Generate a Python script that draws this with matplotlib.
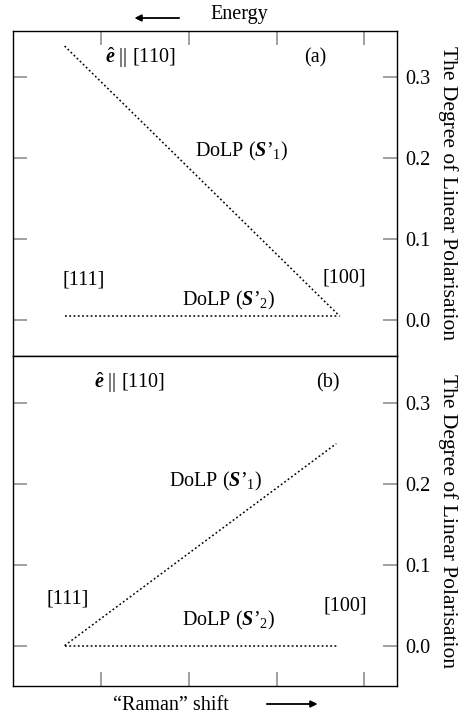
import matplotlib.pyplot as plt

plt.rcParams['font.family'] = ['Liberation Serif', 'DejaVu Serif']
plt.rcParams['mathtext.fontset'] = 'custom'
plt.rcParams['mathtext.rm'] = 'Liberation Serif'
plt.rcParams['mathtext.it'] = 'Liberation Serif:italic'
plt.rcParams['mathtext.bf'] = 'Liberation Serif:bold'
plt.rcParams['mathtext.bfit'] = 'Liberation Serif:bold:italic'

# panel (a): e || [110], S'1 falls from [111] to [100]
a_s1_x = [0.59, 3.72]
a_s1_y = [0.338, 0.005]
a_s2_x = [0.59, 3.70]
a_s2_y = [0.005, 0.005]

# panel (b)
b_s1_x = [0.59, 3.68]
b_s1_y = [0.001, 0.250]
b_s2_x = [0.59, 3.70]
b_s2_y = [0.001, 0.001]

yticks = [0.0, 0.1, 0.2, 0.3]
ytick_labels = ["0.0", "0.1", "0.2", "0.3"]
xticks = [1, 2, 3, 4]

FS = 14.5
ylabel = "The Degree of Linear Polarisation"
ehat = r"$\hat{\mathbfit{e}}$ || [110]"
s1 = r"DoLP ($\mathbfit{S}$’$_{1}$)"
s2 = r"DoLP ($\mathbfit{S}$’$_{2}$)"

fig = plt.figure(figsize=(4.6, 7.2), dpi=100)
ax_a = fig.add_axes([0.0276, 0.5055, 0.8354, 0.452])
ax_b = fig.add_axes([0.0276, 0.047, 0.8354, 0.4585])

dots = (0, (1.2, 1.6))
ax_a.plot(a_s1_x, a_s1_y, color="black", lw=1.1, linestyle=dots)
ax_a.plot(a_s2_x, a_s2_y, color="black", lw=1.1, linestyle=dots)
ax_b.plot(b_s1_x, b_s1_y, color="black", lw=1.1, linestyle=dots)
ax_b.plot(b_s2_x, b_s2_y, color="black", lw=1.1, linestyle=dots)

ax_a.set_ylim(-0.044, 0.357)
ax_b.set_ylim(-0.049, 0.358)

for ax, side in [(ax_a, "top"), (ax_b, "bottom")]:
    ax.set_xlim(0, 4.37)
    ax.set_xticks(xticks)
    ax.set_yticks(yticks)
    ax.set_yticklabels(ytick_labels)
    ax.tick_params(axis="y", direction="in", left=True, right=True,
                   labelleft=False, labelright=True, length=10,
                   width=1.3, color="#999999", labelsize=FS, pad=6)
    ax.tick_params(axis="x", direction="in", top=(side == "top"),
                   bottom=(side == "bottom"), labelbottom=False,
                   labeltop=False, length=10, width=1.3, color="#999999")
    for sp in ax.spines.values():
        sp.set_linewidth(1.0)
    ax.yaxis.set_label_position("right")
    ax.set_ylabel(ylabel, rotation=-90, fontsize=15.5, labelpad=20)

# annotations panel (a)
ax_a.text(1.45, 0.323, ehat, fontsize=FS, ha="center", va="center")
ax_a.text(3.44, 0.323, "(a)", fontsize=FS, ha="center", va="center")
ax_a.text(2.60, 0.208, s1, fontsize=FS, ha="center", va="center")
ax_a.text(0.81, 0.050, "[111]", fontsize=FS, ha="center", va="center")
ax_a.text(3.77, 0.052, "[100]", fontsize=FS, ha="center", va="center")
ax_a.text(2.45, 0.024, s2, fontsize=FS, ha="center", va="center")

# annotations panel (b)
ax_b.text(1.33, 0.325, ehat, fontsize=FS, ha="center", va="center")
ax_b.text(3.58, 0.325, "(b)", fontsize=FS, ha="center", va="center")
ax_b.text(2.31, 0.203, s1, fontsize=FS, ha="center", va="center")
ax_b.text(0.63, 0.059, "[111]", fontsize=FS, ha="center", va="center")
ax_b.text(3.78, 0.050, "[100]", fontsize=FS, ha="center", va="center")
ax_b.text(2.45, 0.032, s2, fontsize=FS, ha="center", va="center")

# axis direction notes outside the panels
fig.text(210 / 460, 1 - 14 / 720, "Energy", fontsize=FS, ha="left", va="center")
fig.add_artist(plt.annotate("", xy=(132 / 460, 1 - 18 / 720), xytext=(182 / 460, 1 - 18 / 720),
                            xycoords="figure fraction",
                            arrowprops=dict(arrowstyle="-|>", color="black", lw=1.0,
                                            mutation_scale=10)))
fig.text(171 / 460, 1 - 705 / 720, "“Raman” shift", fontsize=FS, ha="center", va="center")
fig.add_artist(plt.annotate("", xy=(320 / 460, 1 - 704 / 720), xytext=(264 / 460, 1 - 704 / 720),
                            xycoords="figure fraction",
                            arrowprops=dict(arrowstyle="-|>", color="black", lw=1.0,
                                            mutation_scale=10)))

fig.savefig("out.png", dpi=100)
